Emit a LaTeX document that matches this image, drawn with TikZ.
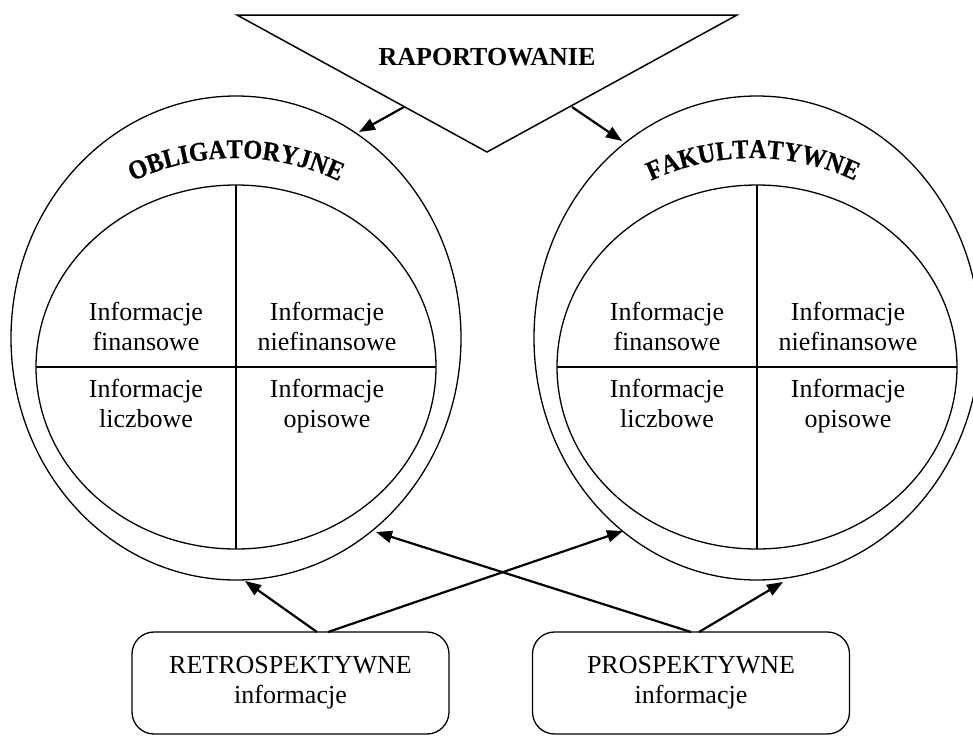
\documentclass[tikz,border=0pt]{standalone}
\usepackage{fontspec}
\setmainfont{Liberation Serif}
\newfontface\arcface[FakeStretch=0.9,FakeBold=0.6]{Liberation Serif Bold}
\usetikzlibrary{arrows.meta,shapes.geometric,decorations.text}
\begin{document}
\begin{tikzpicture}[x=1pt,y=-1pt,
  thinline/.style={line width=1.3pt},
  arr/.style={line width=2.2pt,-{Triangle[length=16pt,width=12pt]}},
  txt/.style={font=\fontsize{26}{30}\selectfont,align=center,inner sep=0pt},
  infobox/.style={draw,line width=1.3pt,rounded corners=22pt,minimum width=317pt,minimum height=102pt,font=\fontsize{26}{30}\selectfont,align=center,inner sep=0pt}]
\useasboundingbox (0,0) rectangle (973,736);
\clip (0,0) rectangle (973,736);
% triangle
\coordinate (T1) at (237,15);
\coordinate (T2) at (737,15);
\coordinate (T3) at (487,152);
\draw[thinline,line width=1.5pt,line join=miter] (T1) -- (T2) -- (T3) -- cycle;
\node[anchor=base,font=\fontsize{26}{30}\selectfont\bfseries,inner sep=0pt] (rap) at (487,65) {RAPORTOWANIE};
% left circles
\draw[thinline] (236,338) ellipse [x radius=225, y radius=242];
\draw[thinline] (236,367) ellipse [x radius=200, y radius=182];
\draw[thinline] (236,185) -- (236,549);
\draw[thinline] (36,367) -- (436,367);
% right circles
\draw[thinline] (757,338) ellipse [x radius=223, y radius=242];
\draw[thinline] (757,367) ellipse [x radius=200, y radius=182];
\draw[thinline] (757,185) -- (757,549);
\draw[thinline] (557,367) -- (957,367);
% arc titles
\path[decorate,decoration={text along path,text align=center,
  text={|\fontsize{27}{27}\arcface|OBLIGATORYJNE}}]
  (236,398) ++(215:240) arc[start angle=215,end angle=325,radius=240];
\path[decorate,decoration={text along path,text align=center,
  text={|\fontsize{27}{27}\arcface|FAKULTATYWNE}}]
  (753,398) ++(215:240) arc[start angle=215,end angle=325,radius=240];
% quadrant texts
\node[txt] (lfin) at (146,326) {Informacje\\finansowe};
\node[txt] (lnie) at (327,326) {Informacje\\niefinansowe};
\node[txt] (llic) at (146,403) {Informacje\\liczbowe};
\node[txt] (lopi) at (327,406) {Informacje\\opisowe};
\node[txt] (rfin) at (667,326) {Informacje\\finansowe};
\node[txt] (rnie) at (848,326) {Informacje\\niefinansowe};
\node[txt] (rlic) at (667,403) {Informacje\\liczbowe};
\node[txt] (ropi) at (848,406) {Informacje\\opisowe};
% boxes
\node[infobox] (retro) at (290.5,683) {RETROSPEKTYWNE\\informacje};
\node[infobox] (prosp) at (691,683) {PROSPEKTYWNE\\informacje};
% arrow endpoints
\coordinate (tL) at (404,107);
\coordinate (tLe) at (359,132);
\coordinate (tR) at (572,107);
\coordinate (tRe) at (622,141);
\coordinate (r1) at (317,632);
\coordinate (r2) at (328,632);
\coordinate (p1) at (691,632);
\coordinate (p2) at (699,632);
\coordinate (eLb) at (245,581);
\coordinate (eRl) at (623,531);
\coordinate (eLr) at (376,532);
\coordinate (eRb) at (783,582);
\draw[arr] (tL) -- (tLe);
\draw[arr] (tR) -- (tRe);
\draw[arr] (r1) -- (eLb);
\draw[arr] (r2) -- (eRl);
\draw[arr] (p1) -- (eLr);
\draw[arr] (p2) -- (eRb);
\end{tikzpicture}
\end{document}
